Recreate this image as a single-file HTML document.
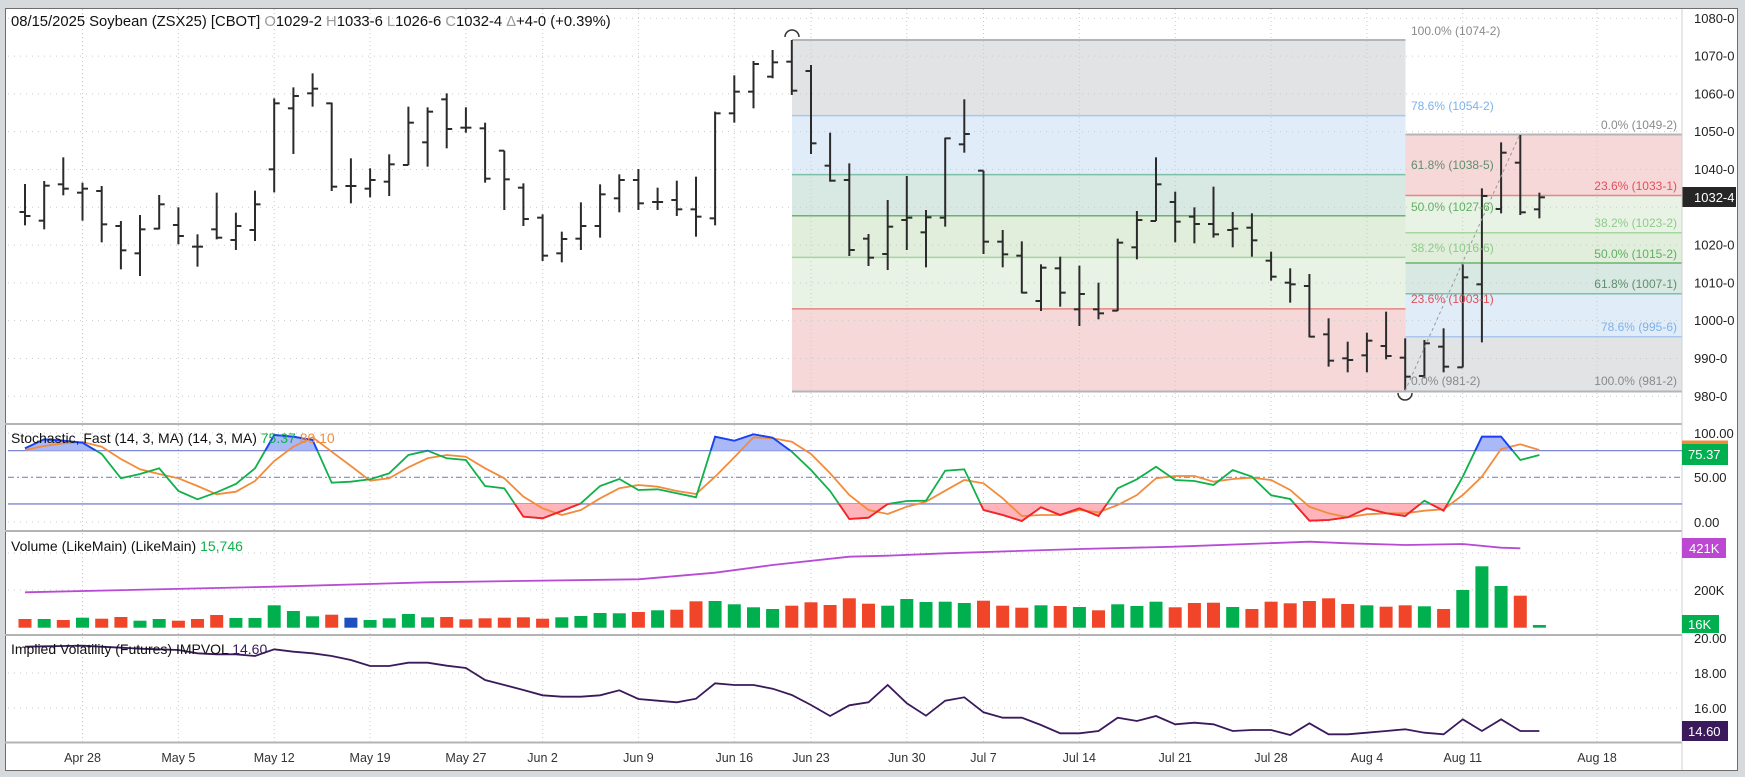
<!DOCTYPE html>
<html><head><meta charset="utf-8">
<style>
html,body{margin:0;padding:0;background:#d6dadd;}
svg{display:block;font-family:"Liberation Sans",sans-serif;}
</style></head>
<body>
<svg id="c" width="1745" height="777" xmlns="http://www.w3.org/2000/svg"></svg>
<script>
const S=document.getElementById('c');
let h='';
const X=i=>25+19.17*i;
const YP=p=>40+(1074.25-p)*3.78;
const YS=s=>477.3-(s-50)*0.888;
h+='<rect x="5.5" y="8.5" width="1732" height="762" fill="#fff" stroke="#6e6e6e" stroke-width="1"/>';
const L1=792,L2=1405.5,R2=1682;
function zone(x1,x2,p1,p2,c){h+=`<rect x="${x1}" y="${YP(p1)}" width="${x2-x1}" height="${YP(p2)-YP(p1)}" fill="${c}"/>`;}
const cG='#e2e3e5',cB='#e0ecf8',cT='#d8e8e3',cGr='#e0eedb',cLg='#e8f3e5',cP='#f6d8d9';
zone(L1,L2,1074.25,1054.25,cG);zone(L1,L2,1054.25,1038.625,cB);zone(L1,L2,1038.625,1027.75,cT);
zone(L1,L2,1027.75,1016.75,cGr);zone(L1,L2,1016.75,1003.125,cLg);zone(L1,L2,1003.125,981.25,cP);
zone(L2,R2,1049.25,1033.125,cP);zone(L2,R2,1033.125,1023.25,cLg);zone(L2,R2,1023.25,1015.25,cGr);
zone(L2,R2,1015.25,1007.125,cT);zone(L2,R2,1007.125,995.75,cB);zone(L2,R2,995.75,981.25,cG);
for(let p=980;p<=1080;p+=10){h+=`<line x1="8" x2="1682" y1="${YP(p)}" y2="${YP(p)}" stroke="#c9c9c9" stroke-dasharray="1,5"/>`;}
const gi=[3,8,13,18,23,27,32,37,41,46,50,55,60,65,70,75];
const gl=['Apr 28','May 5','May 12','May 19','May 27','Jun 2','Jun 9','Jun 16','Jun 23','Jun 30','Jul 7','Jul 14','Jul 21','Jul 28','Aug 4','Aug 11'];
const gx=gi.map(X);gx.push(1597);gl.push('Aug 18');
gx.forEach((x,k)=>{h+=`<line x1="${x}" x2="${x}" y1="9" y2="742" stroke="#c9c9c9" stroke-dasharray="1,3"/>`;
h+=`<text x="${x}" y="762" font-size="12.5" fill="#333" text-anchor="middle">${gl[k]}</text>`;});
function fl(x1,x2,p,c,w){h+=`<line x1="${x1}" x2="${x2}" y1="${YP(p)}" y2="${YP(p)}" stroke="${c}" stroke-width="${w||1.5}"/>`;}
fl(L1,L2,1074.25,'#b3b5b9',2);fl(L1,L2,1054.25,'#a9c7ec');fl(L1,L2,1038.625,'#7dbfa9');fl(L1,L2,1027.75,'#6cb36c');fl(L1,L2,1016.75,'#a6d6a0');fl(L1,L2,1003.125,'#e88484');fl(L1,L2,981.25,'#b3b5b9',2);
fl(L2,R2,1049.25,'#b3b5b9',2);fl(L2,R2,1033.125,'#e88484');fl(L2,R2,1023.25,'#a6d6a0');fl(L2,R2,1015.25,'#6cb36c');fl(L2,R2,1007.125,'#7dbfa9');fl(L2,R2,995.75,'#a9c7ec');fl(L2,R2,981.25,'#b3b5b9',2);
const B=[[552,676,636,648],[543,688,662,557],[472,586,553,566],[548,662,578,566],[558,727,573,673],[663,808,678,751],[645,828,760,688],[585,688,686,613],[622,733,675,708],[703,800,740,740],[578,718,688,713],[638,750,720,678],[572,723,690,613],[295,577,508,310],[262,462,325,288],[220,320,280,266],[308,573,310,560],[475,610,558,558],[505,592,566,540],[463,588,545,493],[320,495,495,368],[322,500,427,335],
[280,445,298,387],[322,398,383,383],[368,548,385,536],[452,630,452,538],[550,678,563,657],[643,783,653,767],[695,787,760,717],[607,750,716,678],[553,713,678,583],[523,637,595,540],[507,630,540,610],[563,630,606,606],[542,648,600,628],[530,710,628,650],[335,676,655,340],[226,368,340,275],[183,325,275,192],[150,235,230,187],[120,285,185,272],[195,462,213,430],[398,545,497,542],[490,768,540,750],[702,798,716,773],
[600,810,762,680],[528,750,660,653],[630,802,697,652],[413,680,653,415],[298,458,433,402],[512,762,512,725],[690,802,725,763],[724,880,767,878],[793,933,903,803],[770,920,805,878],[797,978,928,882],[848,958,928,940],[716,933,932,728],[633,778,742,660],[472,663,663,553],[575,727,606,665],[622,730,650,672],[560,713,672,703],[636,742,690,686],[640,770,683,721],[755,842,782,830],[805,908,848,853],[822,1012,858,1010],
[955,1100,1003,1082],[1025,1117,1075,1080],[998,1117,1066,1022],[935,1078,1038,1068],[1015,1170,1073,1130],[1020,1135,1128,1030],[985,1117,1040,1100],[793,1102,1102,832],[565,1027,853,588],[427,640,627,458],[405,645,488,637],[578,655,628,592]];
B.forEach((b,i)=>{const x=X(i).toFixed(1);const [a,l,o,c]=b.map(v=>v/3);
h+=`<g stroke="#2b2b2b" stroke-width="2"><line x1="${x}" x2="${x}" y1="${a}" y2="${l}"/><line x1="${x-5.5}" x2="${x}" y1="${o}" y2="${o}"/><line x1="${x}" x2="${+x+5.5}" y1="${c}" y2="${c}"/></g>`;});
h+=`<line x1="1405" y1="391" x2="1520" y2="134" stroke="#999" stroke-dasharray="3,3"/>`;
h+=`<path d="M785,37 A7,7 0 0 1 799,37" fill="none" stroke="#333" stroke-width="1.5"/>`;
h+=`<path d="M1398,393 A7,7 0 0 0 1412,393" fill="none" stroke="#333" stroke-width="1.5"/>`;
function lb(x,y,t,c,a){h+=`<text x="${x}" y="${y}" font-size="12" fill="${c}" text-anchor="${a||'start'}">${t}</text>`;}
lb(1411,35,'100.0% (1074-2)','#8a8a8a');lb(1411,110,'78.6% (1054-2)','#7eb1ea');lb(1411,169,'61.8% (1038-5)','#5f8e6e');
lb(1411,211,'50.0% (1027-6)','#62b062');lb(1411,252,'38.2% (1016-6)','#8fcb8a');lb(1411,303,'23.6% (1003-1)','#e0505a');lb(1411,385,'0.0% (981-2)','#8a8a8a');
lb(1677,129,'0.0% (1049-2)','#8a8a8a','end');lb(1677,190,'23.6% (1033-1)','#e0505a','end');lb(1677,227,'38.2% (1023-2)','#8fcb8a','end');
lb(1677,258,'50.0% (1015-2)','#62b062','end');lb(1677,288,'61.8% (1007-1)','#5f8e6e','end');lb(1677,331,'78.6% (995-6)','#7eb1ea','end');lb(1677,385,'100.0% (981-2)','#8a8a8a','end');
h+=`<text x="11" y="26" font-size="14.8" fill="#111">08/15/2025 Soybean (ZSX25) [CBOT] <tspan fill="#999">O</tspan>1029-2 <tspan fill="#999">H</tspan>1033-6 <tspan fill="#999">L</tspan>1026-6 <tspan fill="#999">C</tspan>1032-4 <tspan fill="#999">Δ</tspan>+4-0 (+0.39%)</text>`;
h+=`<rect x="1682" y="9" width="55" height="761" fill="#fff"/>`;
for(let p=980;p<=1080;p+=10){if(p==1030)continue;h+=`<text x="1694" y="${YP(p)+4.5}" font-size="13" fill="#222">${p}-0</text>`;}
h+=`<rect x="1682" y="187" width="54" height="20" fill="#262626"/><text x="1694" y="202" font-size="13" fill="#fff">1032-4</text>`;
[424,531,635,742.5].forEach(y=>{h+=`<line x1="5" x2="1682" y1="${y}" y2="${y}" stroke="#b4b4b4" stroke-width="2"/>`;});
h+=`<line x1="1682" x2="1682" y1="9" y2="770" stroke="#d0d0d0" stroke-width="1"/>`;
[433,522].forEach(y=>{h+=`<line x1="8" x2="1682" y1="${y}" y2="${y}" stroke="#c9c9c9" stroke-dasharray="1,5"/>`;});
const y80=YS(80),y20=YS(20);
h+=`<line x1="8" x2="1682" y1="${y80}" y2="${y80}" stroke="#7d86d6" stroke-width="1.3"/><line x1="8" x2="1682" y1="${y20}" y2="${y20}" stroke="#7d86d6" stroke-width="1.3"/><line x1="8" x2="1682" y1="477.3" y2="477.3" stroke="#7d86d6" stroke-width="1.2" stroke-dasharray="6,3,2,3"/>`;
const K=[205,178,182,188,222,295,282,265,333,358,337,312,265,165,170,180,308,305,298,280,225,212,235,240,318,325,410,415,393,370,318,297,330,328,340,352,170,182,163,173,215,270,333,417,413,372,363,362,272,268,390,405,423,382,405,385,408,325,298,260,300,303,315,270,290,346,357,422,420,412,385,400,408,362,392,290,170,170,240,225];
const D=[210,198,190,186,200,237,268,282,295,318,343,335,303,243,200,172,215,258,302,295,262,235,225,230,265,295,350,385,405,390,355,325,315,320,333,342,290,232,172,175,185,222,280,345,390,402,380,365,332,300,310,355,408,405,405,390,397,375,345,295,288,288,305,297,293,300,330,380,400,412,403,400,400,392,388,345,290,207,193,210];
const kp=K.map((v,i)=>[X(i),380+v/3]),dp=D.map((v,i)=>[X(i),380+v/3]);
const pts=a=>a.map(p=>p[0].toFixed(1)+','+p[1].toFixed(1)).join(' ');
h+=`<defs><clipPath id="ca"><rect x="0" y="424" width="1682" height="${y80-424}"/></clipPath><clipPath id="cb"><rect x="0" y="${y20}" width="1682" height="${531-y20}"/></clipPath></defs>`;
const x0=X(0),xn=X(79);
h+=`<polygon clip-path="url(#ca)" points="${pts(kp)} ${xn},${y80} ${x0},${y80}" fill="#a9b8f7"/>`;
h+=`<polygon clip-path="url(#cb)" points="${pts(kp)} ${xn},${y20} ${x0},${y20}" fill="#ffb3ba"/>`;
h+=`<polyline points="${pts(dp)}" fill="none" stroke="#f28c3c" stroke-width="1.8"/>`;
h+=`<polyline points="${pts(kp)}" fill="none" stroke="#10b04a" stroke-width="1.8"/>`;
h+=`<polyline clip-path="url(#ca)" points="${pts(kp)}" fill="none" stroke="#1e3cff" stroke-width="1.8"/>`;
h+=`<polyline clip-path="url(#cb)" points="${pts(kp)}" fill="none" stroke="#ff1e2a" stroke-width="1.8"/>`;
h+=`<text x="11" y="443" font-size="14" fill="#111">Stochastic, Fast (14, 3, MA)  (14, 3, MA) <tspan fill="#10b04a">75.37</tspan> <tspan fill="#f28c3c">80.10</tspan></text>`;
h+=`<text x="1694" y="438" font-size="13" fill="#222">100.00</text><text x="1694" y="482" font-size="13" fill="#222">50.00</text><text x="1694" y="527" font-size="13" fill="#222">0.00</text>`;
h+=`<rect x="1682" y="440.5" width="46" height="4" fill="#f28c3c"/><rect x="1682" y="444" width="46" height="21" fill="#00b04f"/><text x="1688" y="459" font-size="13" fill="#fff">75.37</text>`;
[553,590].forEach(y=>{h+=`<line x1="8" x2="1682" y1="${y}" y2="${y}" stroke="#c9c9c9" stroke-dasharray="1,5"/>`;});
const V=[717,717,720,713,716,711,722,717,722,717,705,714,714,676,693,709,704,713,720,715,702,712,711,718,715,713,712,716,712,708,699,700,696,691,689,664,663,673,682,687,677,667,675,655,671,677,657,666,665,669,662,677,683,676,678,681,691,673,678,665,682,669,668,681,687,665,670,663,655,672,676,680,676,679,687,630,559,618,647,735];
const VC='RGRGRRGGRRRGGGGGRBGGGGRRRRRRGGGGRGRRGGGGRRRRRGGGGGRRRGRGRGGGRRRGRRRRRRGRRGRGGGRG';
const col={R:'#f04528',G:'#00b04f',B:'#1f4fbf'};
V.forEach((v,i)=>{const t=380+v/3;h+=`<rect x="${(X(i)-6.5).toFixed(1)}" y="${t.toFixed(1)}" width="13" height="${(627.7-t).toFixed(1)}" fill="${col[VC[i]]}"/>`;});
const MK=[[0,637],[13,620],[21,607],[32,598],[36,578],[39,555],[43,530],[45,527],[48,520],[55,507],[60,500],[67,485],[69,490],[72,495],[75,492],[77,503],[78,505]];
h+=`<polyline points="${MK.map(p=>X(p[0]).toFixed(1)+','+(380+p[1]/3).toFixed(1)).join(' ')}" fill="none" stroke="#b84bd6" stroke-width="1.8"/>`;
h+=`<text x="11" y="551" font-size="14" fill="#111">Volume (LikeMain)  (LikeMain) <tspan fill="#10b04a">15,746</tspan></text>`;
h+=`<text x="1694" y="595" font-size="13" fill="#222">200K</text>`;
h+=`<rect x="1682" y="538" width="44" height="20" fill="#bb47d3"/><text x="1689" y="553" font-size="13" fill="#fff">421K</text>`;
[673,708].forEach(y=>{h+=`<line x1="8" x2="1682" y1="${y}" y2="${y}" stroke="#c9c9c9" stroke-dasharray="1,5"/>`;});
const IV=[800,799,798,797,800,803,806,808,810,820,823,823,828,808,815,820,828,840,858,858,848,848,857,864,900,915,930,946,950,950,946,931,957,962,967,956,910,915,915,926,945,975,1008,976,967,915,970,1007,962,952,997,1013,1013,1035,1060,1060,1053,1013,1023,1008,1033,1028,1033,1053,1050,1050,1065,1030,1063,1063,1058,1053,1048,1058,1063,1018,1053,1018,1053,1053];
h+=`<polyline points="${IV.map((v,i)=>X(i).toFixed(1)+','+(380+v/3).toFixed(1)).join(' ')}" fill="none" stroke="#3b1a5c" stroke-width="1.8"/>`;
h+=`<text x="11" y="654" font-size="14" fill="#111">Implied Volatility (Futures) IMPVOL <tspan fill="#3b1a5c">14.60</tspan></text>`;
h+=`<text x="1694" y="643" font-size="13" fill="#222">20.00</text><text x="1694" y="678" font-size="13" fill="#222">18.00</text><text x="1694" y="713" font-size="13" fill="#222">16.00</text>`;
h+=`<rect x="1682" y="615" width="37" height="18" fill="#00b04f"/><text x="1688" y="629" font-size="13" fill="#fff">16K</text>`;
h+=`<rect x="1682" y="721" width="46" height="20" fill="#3b1a5c"/><text x="1688" y="736" font-size="13" fill="#fff">14.60</text>`;
S.innerHTML=h;
</script>
</body></html>
